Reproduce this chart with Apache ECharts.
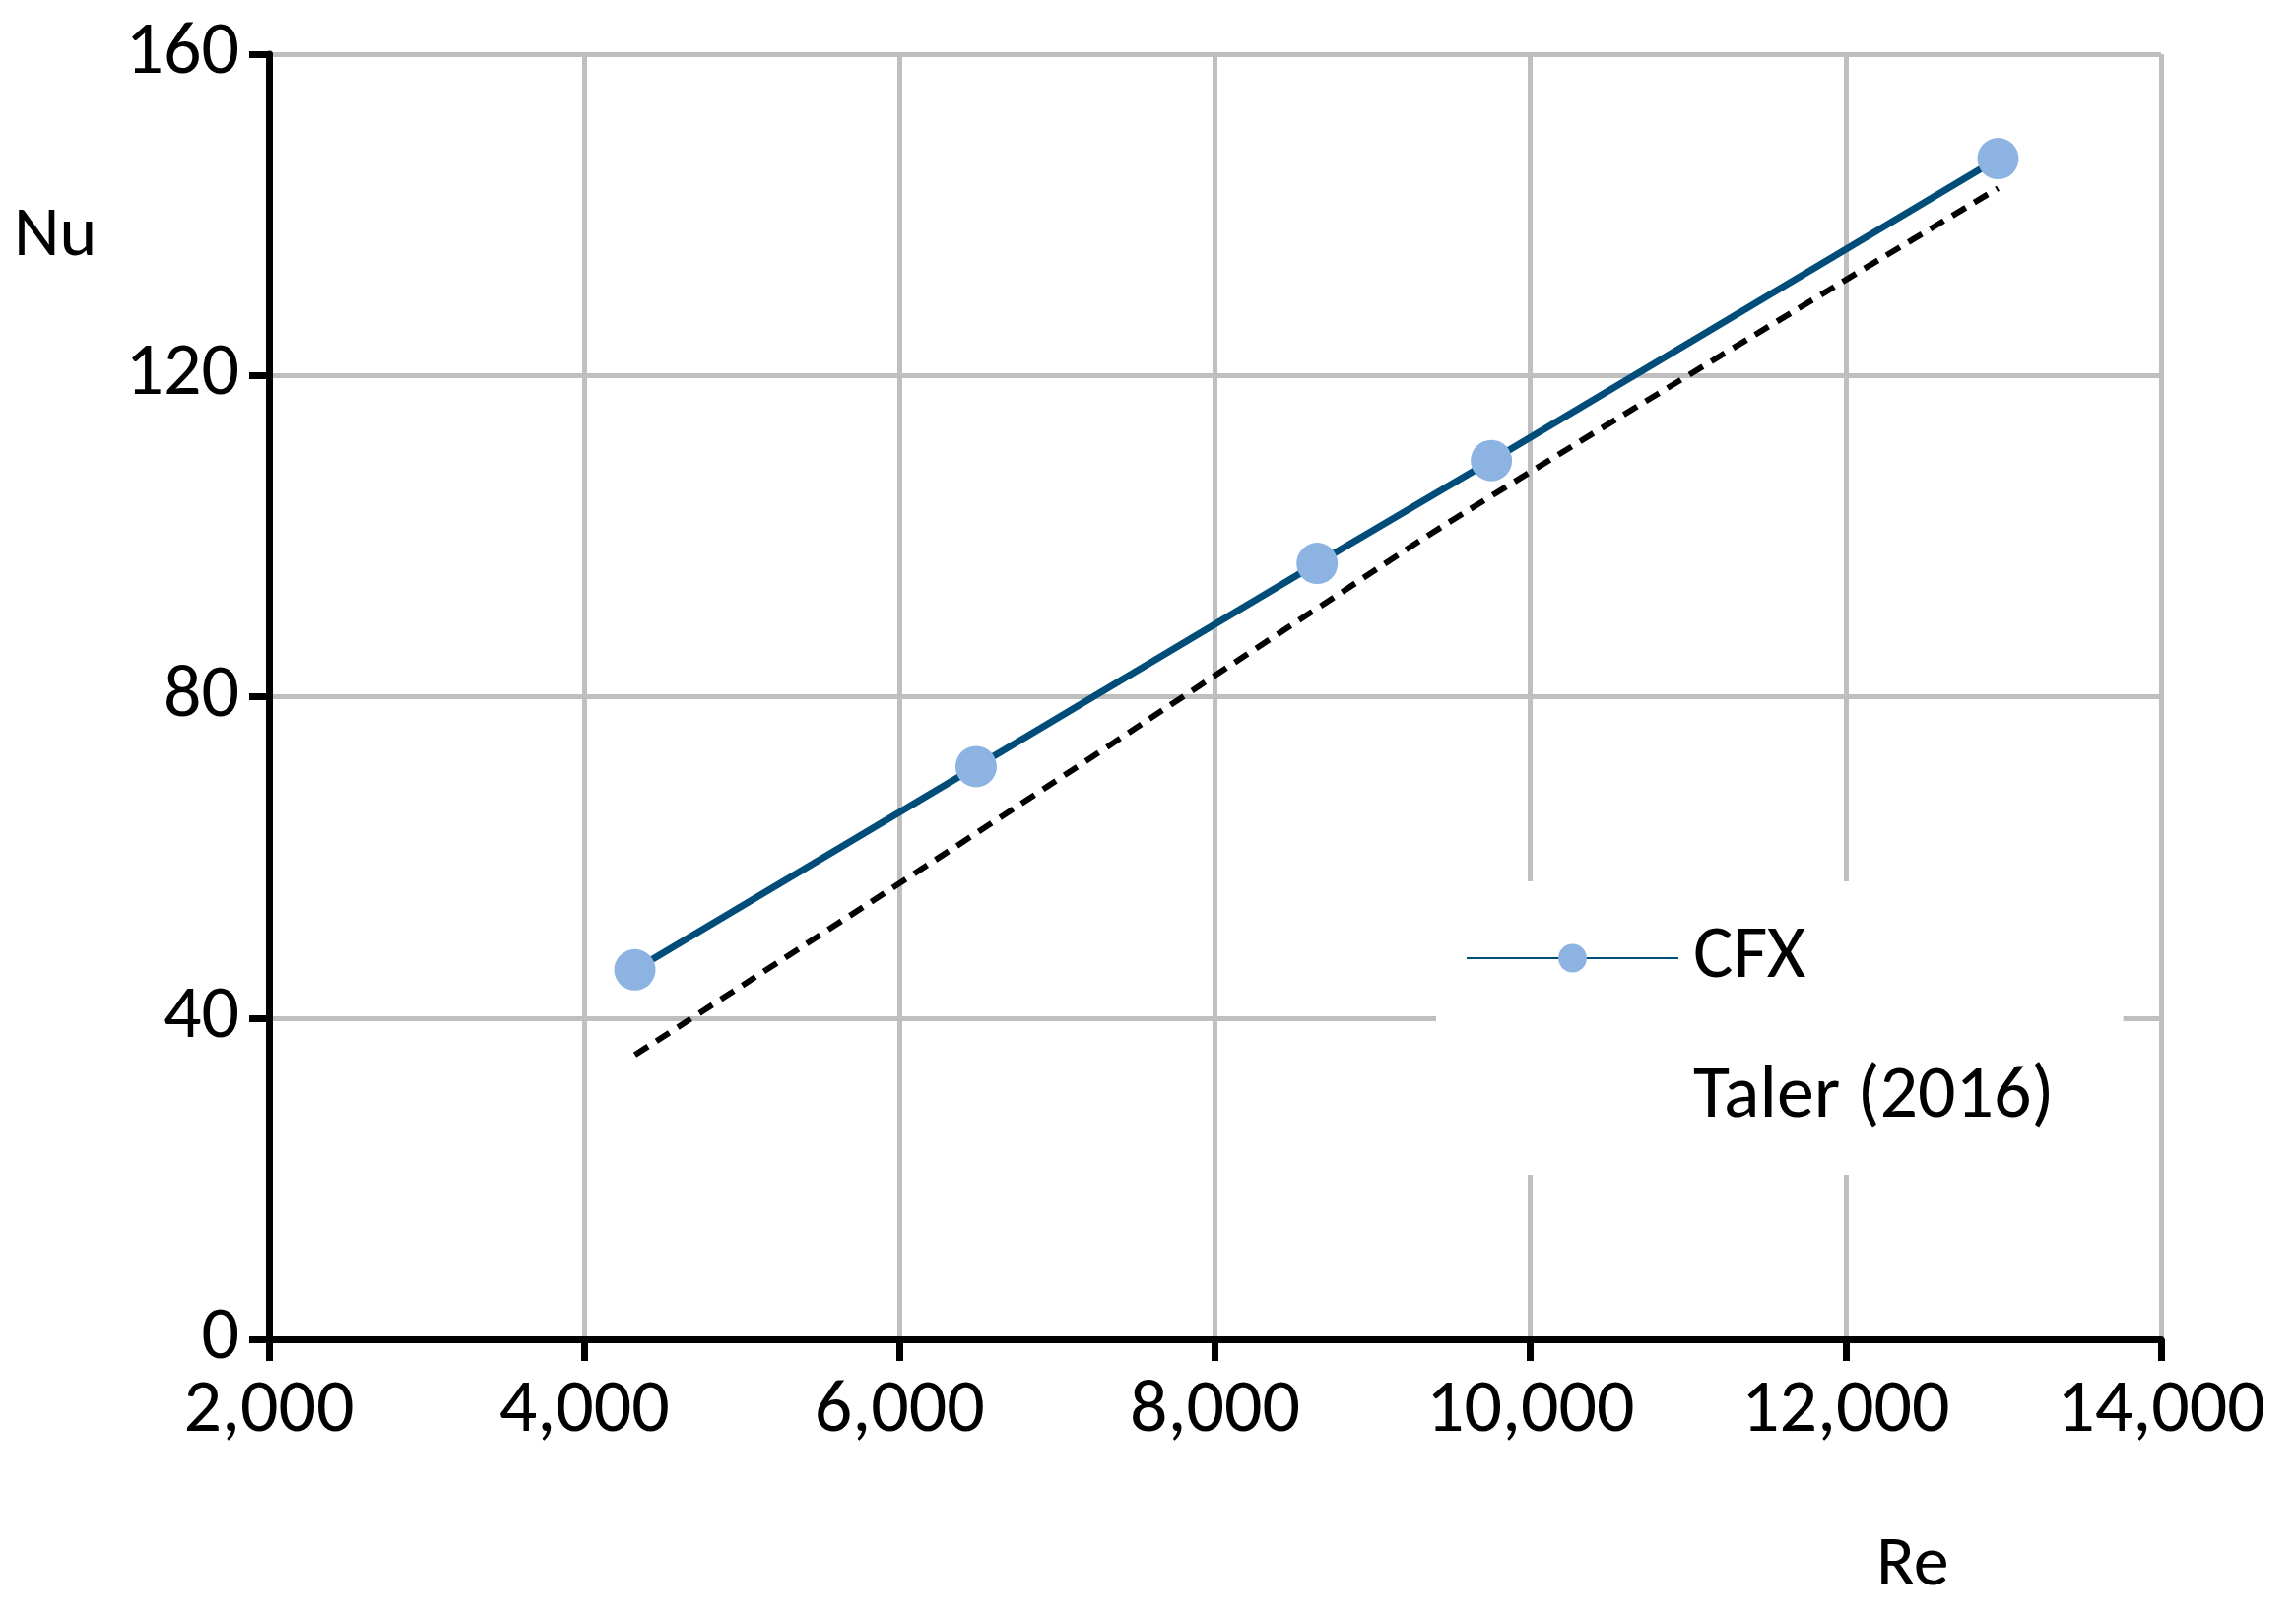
<!DOCTYPE html>
<html>
<head>
<meta charset="utf-8">
<script src="https://cdn.jsdelivr.net/npm/echarts@6/dist/echarts.min.js"></script>
<style>html,body{margin:0;padding:0;background:#fff}#main{width:2331px;height:1641px}</style>
</head>
<body>
<div id="main"></div>
<script>
var reValues = [4321, 6485, 8648, 9753, 12966];
var cfxNu = [46.0, 71.3, 96.6, 109.4, 147.0];
var talerNu = [35.4, 63.0, 91.0, 105.0, 143.3];

function pairs(xs, ys) {
    return xs.map(function (x, i) { return [x, ys[i]]; });
}

var myChart = echarts.init(document.getElementById('main'));
var font = 'Calibri, Carlito, "Open Sans", "Liberation Sans", sans-serif';
var option = {
    animation: false,
    textStyle: { fontFamily: font },
    grid: { left: 273, right: 137, top: 55, bottom: 281 },
    xAxis: {
        type: 'value', min: 2000, max: 14000, interval: 2000,
        axisLine: { lineStyle: { color: '#000', width: 7 } },
        axisTick: { length: 22, lineStyle: { color: '#000', width: 7 } },
        axisLabel: {
            fontSize: 76, color: '#000', margin: 36, fontFamily: font,
            formatter: function (v) { return v.toLocaleString('en-US'); }
        },
        splitLine: { lineStyle: { color: '#bfbfbf', width: 5 } }
    },
    yAxis: {
        type: 'value', min: 0, max: 160, interval: 40,
        axisLine: { show: true, lineStyle: { color: '#000', width: 7 } },
        axisTick: { show: true, length: 20, lineStyle: { color: '#000', width: 7 } },
        axisLabel: { fontSize: 76, color: '#000', margin: 30, fontFamily: font },
        splitLine: { lineStyle: { color: '#bfbfbf', width: 5 } }
    },
    graphic: [
        { type: 'text', left: 14, top: 205, style: { text: 'Nu', fontSize: 72, fill: '#000', fontFamily: font } },
        { type: 'text', left: 1905, top: 1555, style: { text: 'Re', fontSize: 72, fill: '#000', fontFamily: font } }
    ],
    legend: {
        orient: 'vertical', left: 1458, top: 895,
        backgroundColor: '#fff', padding: [40, 70, 40, 30],
        itemWidth: 215, itemHeight: 36, itemGap: 66,
        textStyle: { fontSize: 76, color: '#000', fontFamily: font, padding: [0, 0, 0, 10] },
        data: [
            { name: 'CFX' },
            { name: 'Taler (2016)', icon: 'none' }
        ]
    },
    series: [
        {
            name: 'CFX', type: 'line', data: pairs(reValues, cfxNu),
            symbol: 'circle', symbolSize: 42,
            lineStyle: { color: '#004d7a', width: 7 },
            itemStyle: { color: '#8db3e2' }
        },
        {
            name: 'Taler (2016)', type: 'line', data: pairs(reValues, talerNu),
            symbol: 'none', smooth: true,
            lineStyle: { color: '#000', width: 6, type: [16, 10] },
            itemStyle: { color: '#000' }
        }
    ]
};
myChart.setOption(option);
</script>
</body>
</html>
